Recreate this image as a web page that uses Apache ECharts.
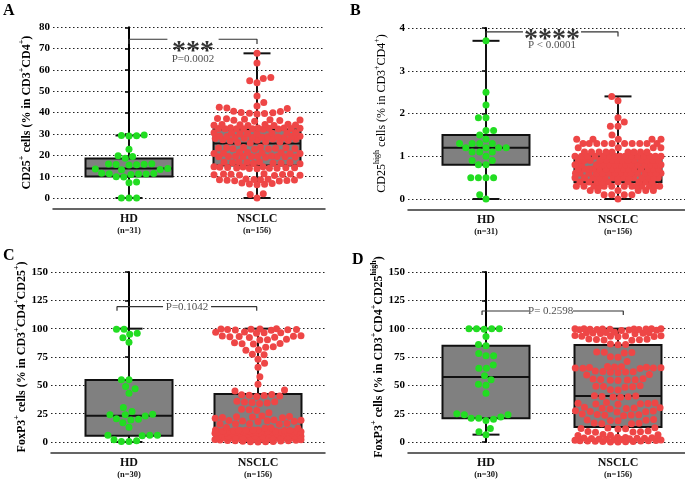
<!DOCTYPE html>
<html><head><meta charset="utf-8">
<script src="https://cdn.jsdelivr.net/npm/echarts@6/dist/echarts.min.js"></script>
<style>html,body{margin:0;padding:0;background:#fff}#c{width:685px;height:481px}</style>
</head><body><div id="c"></div>
<script>
// ---------------- DATA ----------------
const categories = ['HD', 'NSCLC'];
const panelLetters = ['A', 'B', 'C', 'D'];
const groupN_A = [31, 156];
const groupN_B = [31, 156];
const groupN_C = [30, 156];
const groupN_D = [30, 156];

const ticksA = [0, 10, 20, 30, 40, 50, 60, 70, 80];
const ticksB = [0, 1, 2, 3, 4];
const ticksC = [0, 25, 50, 75, 100, 125, 150];
const ticksD = [0, 25, 50, 75, 100, 125, 150];

// box stats: [min, Q1, median, Q3, max]
const boxA_HD = [0, 10.1, 13.8, 18.5, 29.3];
const boxA_NS = [0, 15.2, 25.6, 32.2, 67.8];
const boxB_HD = [0, 0.8, 1.2, 1.5, 3.7];
const boxB_NS = [0, 0.39, 0.69, 1.0, 2.4];
const boxC_HD = [0, 5.6, 23.2, 54.7, 100];
const boxC_NS = [0, 3.0, 10.6, 42.3, 100];
const boxD_HD = [6.5, 20.9, 57.4, 85, 100];
const boxD_NS = [1.5, 13.2, 40.6, 85.6, 100];

const ptsA_HD = [29.5, 29.3, 29.2, 29.0, 22.8, 19.8, 19.5, 18.6, 16.0, 15.9, 15.8, 15.7, 15.6, 15.5,
  13.8, 13.6, 13.4, 13.2, 11.6, 11.5, 11.4, 11.3, 11.2, 11.0, 10.0, 9.8, 7.5, 7.2, 0, 0, 0];
const ptsA_NS = [67.8, 63.3, 56.5, 56.0, 55.0, 54.0, 47.8, 44.7, 43.1, 42.5, 42.2, 42.0,
  40.6, 40.5, 40.1, 40.0, 39.7, 39.6, 39.4,
  37.2, 37.1, 36.9, 36.7, 36.6, 36.4, 36.3, 36.0,
  34.6, 34.5, 34.5, 34.3, 34.2, 34.1, 34.0, 34.0,
  32.9, 32.8, 32.8, 32.7, 32.7, 32.6, 32.6, 32.5, 32.5, 32.4, 32.4, 32.3, 32.2,
  30.7, 30.6, 30.5, 30.4, 30.3, 30.2, 30.1, 30.0,
  29.0, 28.9, 28.8, 28.8, 28.7, 28.6, 28.5, 28.4, 28.3, 28.2, 28.0, 27.9, 27.7, 27.5, 27.3, 27.1, 26.9, 26.7, 26.4, 26.2, 26.0, 25.8,
  23.8, 23.7, 23.6, 23.5, 23.4, 23.3, 23.2, 23.1, 23.0, 22.9,
  21.4, 21.3, 21.2, 21.1, 21.0, 20.9, 20.8, 20.7,
  19.7, 19.6, 19.6, 19.5, 19.5, 19.4, 19.4, 19.3, 19.3, 19.2, 19.1,
  17.0, 16.9, 16.8, 16.7, 16.6, 16.5, 16.4, 16.3, 16.2, 16.1,
  14.7, 14.6, 14.5, 14.4, 14.3, 14.2, 14.2, 14.1, 14.0, 13.9, 13.8, 13.7,
  11.4, 11.3, 11.2, 11.1, 11.0, 10.9, 10.8, 10.7, 10.6,
  8.9, 8.8, 8.7, 8.6, 8.5, 8.4, 8.3, 8.2, 8.1, 8.0,
  7.0, 6.8, 6.6, 6.4, 6.2, 2.0, 1.6, 0];

const ptsB_HD = [3.7, 2.5, 2.2, 1.9, 1.9, 1.6, 1.6, 1.5, 1.4, 1.3, 1.3, 1.3, 1.3, 1.2, 1.2, 1.2, 1.2,
  1.1, 1.1, 1.1, 1.0, 0.9, 0.9, 0.8, 0.8, 0.5, 0.5, 0.5, 0.5, 0.1, 0.0];
const ptsB_NS = [2.4, 2.3, 1.9, 1.8, 1.7, 1.7, 1.5,
  1.4, 1.4, 1.4, 1.4, 1.4,
  1.3, 1.3, 1.3, 1.3, 1.3, 1.3, 1.3, 1.3, 1.3, 1.3,
  1.2, 1.2, 1.2, 1.2,
  1.1, 1.1, 1.1, 1.1, 1.1, 1.1, 1.1, 1.1, 1.1,
  1.0, 1.0, 1.0, 1.0, 1.0, 1.0, 1.0, 1.0, 1.0, 1.0, 1.0, 1.0, 1.0, 1.0, 1.0,
  0.9, 0.9, 0.9, 0.9, 0.9, 0.9, 0.9, 0.9, 0.9, 0.9, 0.9, 0.9, 0.9, 0.9,
  0.8, 0.8, 0.8, 0.8, 0.8, 0.8, 0.8, 0.8, 0.8, 0.8, 0.8, 0.8, 0.8, 0.8,
  0.7, 0.7, 0.7, 0.7, 0.7, 0.7, 0.7, 0.7, 0.7, 0.7, 0.7, 0.7, 0.7, 0.7, 0.7,
  0.6, 0.6, 0.6, 0.6, 0.6, 0.6, 0.6, 0.6, 0.6, 0.6, 0.6, 0.6, 0.6, 0.6, 0.6,
  0.5, 0.5, 0.5, 0.5, 0.5, 0.5, 0.5, 0.5, 0.5, 0.5, 0.5, 0.5, 0.5, 0.5,
  0.4, 0.4, 0.4, 0.4, 0.4, 0.4, 0.4, 0.4, 0.4, 0.4,
  0.3, 0.3, 0.3, 0.3, 0.3, 0.3, 0.3, 0.3, 0.3, 0.3, 0.3, 0.3, 0.3,
  0.2, 0.2, 0.2, 0.2, 0.2, 0.2,
  0.1, 0.1, 0.1, 0.1, 0.0];

const ptsC_HD = [99.5, 99.5, 96, 95, 92, 88, 55, 55, 49, 47, 43, 30.5, 27, 24.5, 24, 24, 23,
  20.5, 20, 19.5, 17, 13, 6, 6, 6, 5.5, 2, 1, 0.5, 0.5];
const ptsC_NS = [100, 99.8, 99.6, 99.5, 99.3, 99.2, 99.0, 98.8, 98.6,
  97.0, 96.8, 96.5, 96.3, 96.0,
  93.8, 93.5, 93.3, 93.0, 92.8, 92.5, 92.2,
  90.6, 90.3, 90.0, 87.5, 87.0, 86.8, 86.5, 84.0, 83.6, 81.5, 81.0, 77.5, 77.0,
  73.0, 69.4, 66.0, 57.5, 51.0, 45.8, 44.9,
  42.0, 41.6, 41.3, 41.0, 40.6, 40.2,
  36.0, 35.6, 35.2, 34.8, 34.5, 34.0,
  29.0, 28.4, 27.8, 25.8,
  23.0, 22.6, 22.3, 22.0, 21.7, 21.4, 21.0,
  19.4, 19.2, 19.0, 18.8, 18.5, 18.2, 18.0,
  16.4, 16.2, 16.0, 15.8, 15.6,
  12.8, 12.6, 12.4, 12.2,
  10.6, 10.5, 10.5, 10.4, 10.3, 10.2, 10.2, 10.0, 9.9, 9.8, 9.7, 9.6, 9.5, 9.5, 9.3, 9.2, 9.1, 9.0, 8.9,
  8.8, 8.7, 8.6, 8.5, 8.4, 8.3, 8.2, 8.1, 8.0, 7.9, 7.8, 7.7, 7.6, 7.5, 7.4, 7.2, 7.1, 7.0, 6.8,
  5.2, 5.1, 5.0, 4.9, 4.8, 4.7, 4.6, 4.5, 4.4, 4.3, 4.2, 4.1, 4.0, 3.9, 3.8, 3.7, 3.6, 3.5, 3.4,
  3.3, 3.2, 3.0, 2.8, 2.6, 2.4, 2.2, 2.0, 1.8, 1.6, 1.4, 1.2, 1.0, 0.8, 0.6, 0.4, 0.3, 0.2, 0.0];

const ptsD_HD = [100, 100, 100, 100, 99.5, 93, 86, 85, 78, 76, 76, 68, 65, 65, 58.5, 55, 51, 50, 43,
  25, 24, 24, 22, 21, 21, 20, 19, 12, 9, 6.5];
const ptsD_NS = [100, 100, 100, 99.9, 99.8, 99.7, 99.6, 99.5, 99.4, 99.3, 99.2, 99.0, 98.8, 98.6, 98.4,
  96.8, 96.6, 96.5, 96.3, 96.2, 96.0, 95.8, 95.6,
  94.0, 93.8, 93.6, 93.4, 93.2, 93.0, 92.8,
  90.8, 90.6, 90.4, 90.2, 90.0, 89.8,
  86.4, 86.0, 85.7,
  79.5, 79.2, 79.0, 78.6, 75.2, 74.8, 71.0,
  66.6, 66.4, 66.2, 66.0, 65.8, 65.6, 65.4, 65.2, 65.0, 64.8,
  62.6, 62.3, 62.0, 61.8, 61.5, 61.2, 59.5, 59.2,
  55.8, 55.5, 55.2, 55.0, 54.8, 54.5, 54.2,
  49.6, 49.3, 49.0, 48.7, 48.4, 46.2, 45.8,
  40.8, 40.5, 40.2, 40.0, 39.8, 39.5,
  34.8, 34.5, 34.2, 34.0, 33.8, 33.5, 33.2,
  30.6, 30.3, 30.0, 29.8, 29.5, 29.2,
  27.6, 27.3, 27.0, 26.8, 26.5,
  24.6, 24.3, 24.0, 23.8, 23.5, 23.2,
  19.8, 19.5, 19.2, 19.0, 18.7,
  16.8, 16.5, 16.2, 16.0,
  12.6, 12.3, 12.0, 11.8, 11.5,
  9.6, 9.3, 9.0, 8.8, 8.5,
  6.6, 6.3, 6.0, 5.8,
  4.2, 4.0, 3.8, 3.6, 3.4, 3.2, 3.0, 2.8, 2.6, 2.4, 2.2, 2.0, 1.8, 1.6, 1.4, 1.2, 1.0, 0.9, 0.8, 0.6, 0.5, 0.4, 0.2, 0.1, 0.0];

const yNameA = '{t|CD25}{s|+}{t| cells (% in CD3}{s|+}{t|CD4}{s|+}{t|)}';
const yNameB = '{t|CD25}{s|high}{t| cells (% in CD3}{s|+}{t|CD4}{s|+}{t|)}';
const yNameC = '{t|FoxP3}{s|+}{t| cells (% in CD3}{s|+}{t|CD4}{s|+}{t|CD25}{s|+}{t|)}';
const yNameD = '{t|FoxP3}{s|+}{t| cells (% in CD3}{s|+}{t|CD4}{s|+}{t|CD25}{s|high}{t|)}';

const starsTexts = ['***', '****', '', ''];
const pTexts = ['P=0.0002', 'P < 0.0001', 'P=0.1042', 'P= 0.2598'];

// ---------------- LAYOUT / STYLE ----------------
const FONT = 'Liberation Serif';
const GREEN = '#22dd22', RED = '#ee4646';
const BOX_W = 87, CAP_W = 27, DOT = 7, DOT_STEP = 7.6, MAX_ROW = 86;

const panels = [
  { letter: panelLetters[0], hd: ptsA_HD, ns: ptsA_NS, boxes: [boxA_HD, boxA_NS], ticks: ticksA, n: groupN_A, name: yNameA, bold: true,
    grid: { left: 53, right: 360, top: 27.3, bottom: 283 }, xr: [-0.59375, 1.53125],
    titlePos: { left: 3, top: 3 },
    br: { y: 74.4, yt: 72.2, x0: 0, x1: 1, gl: 0.30, gr: 0.70, starY: 70.4, pX: 0.5, pY: 65.0 } },
  { letter: panelLetters[1], hd: ptsB_HD, ns: ptsB_NS, boxes: [boxB_HD, boxB_NS], ticks: ticksB, n: groupN_B, name: yNameB, bold: false,
    grid: { left: 408, right: 0, top: 28, bottom: 282 }, xr: [-0.5909, 1.5076],
    titlePos: { left: 350, top: 3 },
    br: { y: 3.91, yt: 3.80, x0: 0, x1: 1, gl: 0.28, gr: 0.72, starY: 3.82, pX: 0.5, pY: 3.60 } },
  { letter: panelLetters[2], hd: ptsC_HD, ns: ptsC_NS, boxes: [boxC_HD, boxC_NS], ticks: ticksC, n: groupN_C, name: yNameC, bold: true,
    grid: { left: 51, right: 360, top: 272, bottom: 39 }, xr: [-0.6047, 1.5194],
    titlePos: { left: 3, top: 248 },
    br: { y: 119.4, yt: 115.9, x0: -0.093, x1: 0.99, gl: 0.264, gr: 0.636, starY: null, pX: 0.45, pY: 119.4 } },
  { letter: panelLetters[3], hd: ptsD_HD, ns: ptsD_NS, boxes: [boxD_HD, boxD_NS], ticks: ticksD, n: groupN_D, name: yNameD, bold: true,
    grid: { left: 408, right: 0, top: 272, bottom: 39 }, xr: [-0.5909, 1.5076],
    titlePos: { left: 352, top: 252 },
    br: { y: 115.6, yt: 112.0, x0: -0.03, x1: 1.04, gl: 0.326, gr: 0.659, starY: null, pX: 0.49, pY: 115.6 } }
];

// beeswarm layout computed in pixel space (through the chart's own scales)
function swarm(values, center, pxPerX, yPx) {
  const items = values.map(v => ({ v: v, py: yPx(v) })).sort((a, b) => b.py - a.py);
  const placed = [];
  const D = DOT_STEP, H = MAX_ROW / 2;
  let flip = 1;
  items.forEach(it => {
    const near = placed.filter(p => Math.abs(p.py - it.py) < D);
    const ivs = near.map(p => { const w = Math.sqrt(D * D - (p.py - it.py) * (p.py - it.py)); return [p.x - w, p.x + w]; });
    const cands = [0];
    ivs.forEach(iv => { cands.push(iv[0], iv[1]); });
    const free = x => ivs.every(iv => x <= iv[0] + 1e-6 || x >= iv[1] - 1e-6);
    let best = null;
    cands.filter(x => Math.abs(x) <= H && free(x)).forEach(x => {
      if (best === null || Math.abs(x) < Math.abs(best) - 1e-6 ||
          (Math.abs(Math.abs(x) - Math.abs(best)) < 1e-6 && x * flip > 0)) best = x;
    });
    if (best === null) {
      let bestScore = -Infinity;
      for (let x = -H; x <= H + 1e-9; x += 0.5) {
        let md = Infinity;
        near.forEach(p => { const d = Math.hypot(p.x - x, p.py - it.py); if (d < md) md = d; });
        const score = md - Math.abs(x) * 0.001;
        if (score > bestScore) { bestScore = score; best = x; }
      }
    }
    flip = -flip;
    it.x = best;
    placed.push(it);
  });
  return items.map(it => [center + it.x / pxPerX, it.v]);
}

function renderBox(params, api) {
  const x = api.value(0);
  const c = v => api.coord([x, v]);
  const pMin = c(api.value(1)), pQ1 = c(api.value(2)), pMed = c(api.value(3)), pQ3 = c(api.value(4)), pMax = c(api.value(5));
  const cx = pMin[0], hw = BOX_W / 2, cw = CAP_W / 2;
  const ls = { stroke: '#111', lineWidth: 2 };
  return { type: 'group', children: [
    { type: 'line', shape: { x1: cx, y1: pQ3[1], x2: cx, y2: pMax[1] }, style: ls },
    { type: 'line', shape: { x1: cx, y1: pQ1[1], x2: cx, y2: pMin[1] }, style: ls },
    { type: 'line', shape: { x1: cx - cw, y1: pMax[1], x2: cx + cw, y2: pMax[1] }, style: ls },
    { type: 'line', shape: { x1: cx - cw, y1: pMin[1], x2: cx + cw, y2: pMin[1] }, style: ls },
    { type: 'rect', shape: { x: cx - hw, y: pQ3[1], width: BOX_W, height: pQ1[1] - pQ3[1] }, style: { fill: '#808080', stroke: '#111', lineWidth: 2 } },
    { type: 'line', shape: { x1: cx - hw, y1: pMed[1], x2: cx + hw, y2: pMed[1] }, style: ls }
  ] };
}

const supStyle = (bold) => ({
  t: { fontFamily: FONT, fontWeight: bold ? 'bold' : 'normal', fontSize: 12, lineHeight: 18, color: '#000' },
  s: { fontFamily: FONT, fontWeight: bold ? 'bold' : 'normal', fontSize: 8, lineHeight: 18, verticalAlign: 'top', color: '#000' }
});

function buildOption(pxPerXs, yConv) {
  const option = {
    animation: false,
    backgroundColor: '#fff',
    title: panels.map(p => ({ text: p.letter, left: p.titlePos.left, top: p.titlePos.top, padding: 0,
      textStyle: { fontFamily: FONT, fontWeight: 'bold', fontSize: 16, color: '#000' } })),
    grid: panels.map(p => Object.assign({ containLabel: false }, p.grid)),
    xAxis: panels.map((p, i) => ({
      gridIndex: i, type: 'value', min: p.xr[0], max: p.xr[1], position: 'bottom', offset: 11,
      axisLine: { show: true, onZero: false, lineStyle: { color: '#333', width: 1.5 } },
      axisTick: { show: false }, splitLine: { show: false },
      axisLabel: { show: true, customValues: [0, 1], margin: 4,
        formatter: v => `{a|${categories[Math.round(v)]}}\n{b|(n=${p.n[Math.round(v)]})}`,
        rich: { a: { fontFamily: FONT, fontWeight: 'bold', fontSize: 12, lineHeight: 12, color: '#111' },
                b: { fontFamily: FONT, fontWeight: 'bold', fontSize: 8.5, lineHeight: 11, color: '#111' } } }
    })),
    yAxis: panels.map((p, i) => ({
      gridIndex: i, type: 'value', min: p.ticks[0], max: p.ticks[p.ticks.length - 1], interval: p.ticks[1] - p.ticks[0],
      axisLine: { show: true, lineStyle: { color: '#000', width: 2 } },
      axisTick: { show: true, length: 4, lineStyle: { color: '#000', width: 1.5 } },
      axisLabel: { fontFamily: FONT, fontWeight: 'bold', fontSize: 11, color: '#000', margin: 3 },
      splitLine: { show: true, lineStyle: { color: '#222', type: [1.5, 2.5], width: 1 } },
      name: p.name, nameLocation: 'middle', nameGap: 17,
      nameTextStyle: { rich: supStyle(p.bold) }
    })),
    series: []
  };
  panels.forEach((p, i) => {
    option.series.push({
      type: 'custom', xAxisIndex: i, yAxisIndex: i, renderItem: renderBox, z: 2, silent: true,
      encode: { x: 0, y: [1, 2, 3, 4, 5] },
      data: p.boxes.map((b, k) => [k].concat(b))
    });
    if (pxPerXs) {
      option.series.push({ type: 'scatter', xAxisIndex: i, yAxisIndex: i, z: 3, symbolSize: DOT, silent: true,
        itemStyle: { color: GREEN, opacity: 1 }, data: swarm(p.hd, 0, pxPerXs[i], yConv[i]) });
      option.series.push({ type: 'scatter', xAxisIndex: i, yAxisIndex: i, z: 3, symbolSize: DOT, silent: true,
        itemStyle: { color: RED, opacity: 1 }, data: swarm(p.ns, 1, pxPerXs[i], yConv[i]) });
    }
    const b = p.br;
    const lineStyle = { color: '#333', width: 1.2 };
    option.series.push({ type: 'line', xAxisIndex: i, yAxisIndex: i, symbol: 'none', silent: true, z: 4, lineStyle,
      data: [[b.gl, b.y], [b.x0, b.y], [b.x0, b.yt]] });
    option.series.push({ type: 'line', xAxisIndex: i, yAxisIndex: i, symbol: 'none', silent: true, z: 4, lineStyle,
      data: [[b.gr, b.y], [b.x1, b.y], [b.x1, b.yt]] });
    const texts = [];
    if (starsTexts[i]) texts.push({ value: [0.5, b.starY], label: { formatter: starsTexts[i], fontSize: 28, fontWeight: 'bold', fontFamily: FONT, color: '#000', offset: [0, 4] } });
    texts.push({ value: [b.pX, b.pY], label: { formatter: pTexts[i], fontSize: 11, fontFamily: FONT, color: '#222' } });
    option.series.push({ type: 'scatter', xAxisIndex: i, yAxisIndex: i, symbolSize: 1, silent: true, z: 5,
      itemStyle: { color: 'rgba(0,0,0,0)' }, label: { show: true, position: 'inside' }, data: texts });
  });
  return option;
}

const chart = echarts.init(document.getElementById('c'), null, { renderer: 'canvas' });
chart.setOption(buildOption(null, null));
const pxPerXs = panels.map((p, i) => chart.convertToPixel({ xAxisIndex: i }, 1) - chart.convertToPixel({ xAxisIndex: i }, 0));
const yConv = panels.map((p, i) => (v => chart.convertToPixel({ yAxisIndex: i }, v)));
chart.setOption(buildOption(pxPerXs, yConv), true);
</script>
</body></html>
